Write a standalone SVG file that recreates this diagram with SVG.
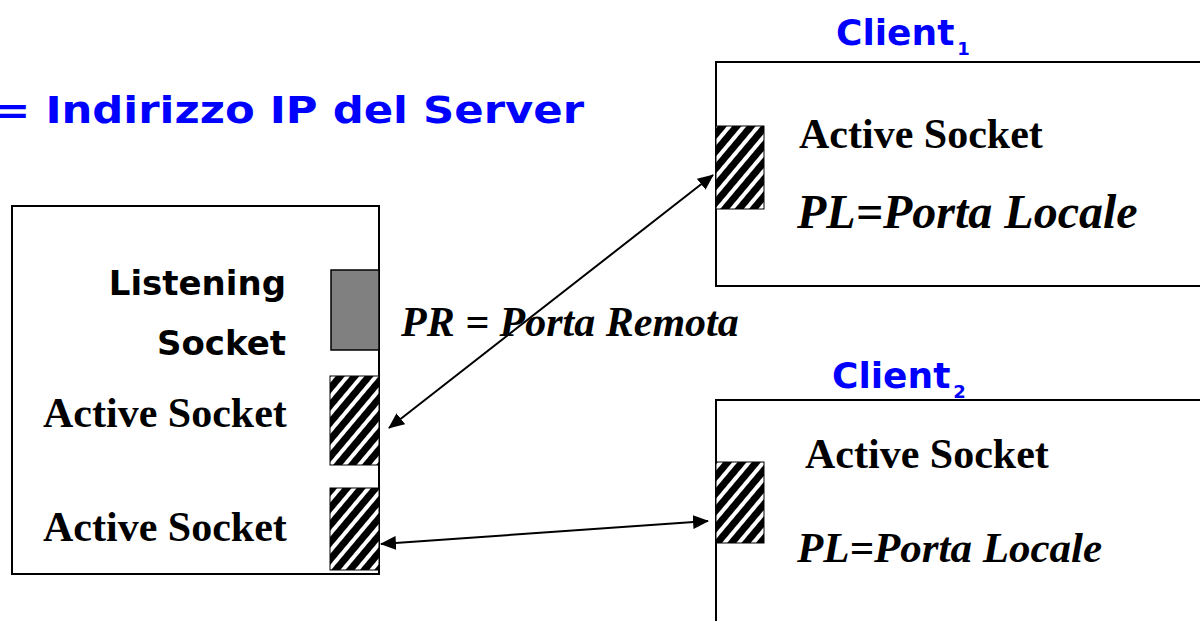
<svg xmlns="http://www.w3.org/2000/svg" width="1200" height="621" viewBox="0 0 1200 621">
<style>
.box{fill:#fff;stroke:#000;stroke-width:2}
.comic{font-family:"Comic Sans MS","DejaVu Sans",sans-serif;font-weight:bold}
.blue{fill:#0000ff}
.tb{font-family:"Liberation Serif","Times New Roman",serif;font-weight:bold;fill:#000}
.tbi{font-family:"Liberation Serif","Times New Roman",serif;font-weight:bold;font-style:italic;fill:#000}
.hatch{fill:url(#stripes);stroke:#000;stroke-width:1}
.conn{stroke:#000;stroke-width:2;fill:none;marker-start:url(#ah);marker-end:url(#ah)}
</style>
<defs>
<pattern id="stripes" patternUnits="userSpaceOnUse" width="11" height="11" patternTransform="rotate(40)">
<rect width="11" height="11" fill="#000"/>
<rect width="4" height="11" fill="#fff"/>
</pattern>
<marker id="ah" markerWidth="16" markerHeight="14" refX="15" refY="7" orient="auto-start-reverse" markerUnits="userSpaceOnUse">
<path d="M0,0 L16,7 L0,14 z" fill="#000"/>
</marker>
</defs>
<rect width="1200" height="621" fill="#fff"/>
<text id="title" class="comic blue" x="-6" y="123" font-size="38" textLength="590" lengthAdjust="spacingAndGlyphs">= Indirizzo IP del Server</text>
<g id="server">
<rect class="box" x="12" y="206" width="367" height="368"/>
<text class="comic" x="286" y="295" font-size="34" text-anchor="end">Listening</text>
<text class="comic" x="286" y="355" font-size="34" text-anchor="end">Socket</text>
<rect x="331" y="270" width="48" height="80" fill="#808080" stroke="#000" stroke-width="1.5"/>
<text class="tb" x="43" y="427" font-size="42">Active Socket</text>
<rect class="hatch" x="330" y="376" width="49" height="89"/>
<text class="tb" x="43" y="541" font-size="42">Active Socket</text>
<rect class="hatch" x="330" y="488" width="49" height="82"/>
</g>
<g id="client1">
<text class="comic blue" x="836" y="45" font-size="36">Client<tspan font-size="18" dy="10" dx="3">1</tspan></text>
<rect class="box" x="716" y="62" width="500" height="224"/>
<rect class="hatch" x="716" y="126" width="48" height="83"/>
<text class="tb" x="799" y="148" font-size="42">Active Socket</text>
<text class="tbi" x="797" y="228" font-size="48">PL=Porta Locale</text>
</g>
<g id="client2">
<text class="comic blue" x="832" y="388" font-size="36">Client<tspan font-size="18" dy="10" dx="3">2</tspan></text>
<rect class="box" x="716" y="400" width="500" height="240"/>
<rect class="hatch" x="716" y="462" width="48" height="81"/>
<text class="tb" x="805" y="468" font-size="42">Active Socket</text>
<text class="tbi" x="797" y="562" font-size="43">PL=Porta Locale</text>
</g>
<text id="pr" class="tbi" x="401" y="336" font-size="42">PR = Porta Remota</text>
<g id="connectors">
<line class="conn" x1="389" y1="428" x2="713" y2="175"/>
<line class="conn" x1="381" y1="544" x2="708" y2="521"/>
</g>
</svg>
